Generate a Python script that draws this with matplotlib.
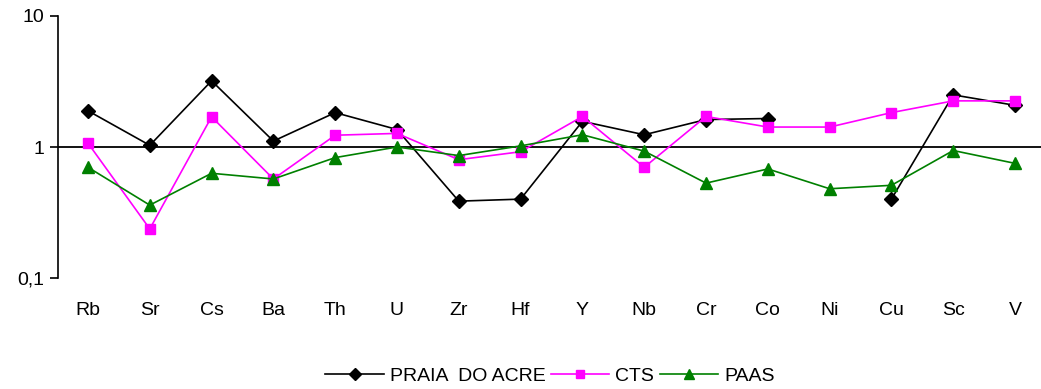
from matplotlib import pyplot as plt
import numpy as np

plt.rcParams['font.family'] = ['Liberation Sans', 'DejaVu Sans']

elements = ["Rb", "Sr", "Cs", "Ba", "Th", "U", "Zr", "Hf", "Y", "Nb", "Cr", "Co", "Ni", "Cu", "Sc", "V"]
# Ni missing for Praia do Acre -> gap in the line
praia_do_acre = [1.89, 1.03, 3.2, 1.11, 1.83, 1.36, 0.386, 0.40, 1.57, 1.24, 1.62, 1.65, np.nan, 0.40, 2.5, 2.08]
cts = [1.07, 0.237, 1.70, 0.57, 1.23, 1.27, 0.80, 0.92, 1.71, 0.70, 1.71, 1.42, 1.42, 1.83, 2.25, 2.25]
paas = [0.70, 0.36, 0.63, 0.57, 0.83, 1.0, 0.86, 1.02, 1.24, 0.93, 0.53, 0.68, 0.48, 0.51, 0.94, 0.75]

W, H = 1041, 389
fig = plt.figure(figsize=(W / 100, H / 100), dpi=100)
ax = fig.add_axes([58 / W, 1 - 278 / H, (W - 58) / W, 262 / H])

x = np.arange(len(elements))
ax.axhline(1, color='black', lw=1.3, zorder=1)
ax.plot(x, praia_do_acre, color='black', lw=1.2, marker='D', markersize=7, label='PRAIA  DO ACRE', zorder=3)
ax.plot(x, cts, color='#ff00ff', lw=1.2, marker='s', markersize=7, label='CTS', zorder=3)
ax.plot(x, paas, color='#008000', lw=1.2, marker='^', markersize=8, label='PAAS', zorder=3)

ax.set_yscale('log')
ax.set_ylim(0.1, 10)
ax.set_xlim(-0.485, 15.42)
ax.set_yticks([0.1, 1, 10])
ax.set_yticklabels(['0,1', '1', '10'])
ax.yaxis.set_minor_locator(plt.NullLocator())
ax.set_xticks(x)
ax.set_xticklabels(elements)
ax.tick_params(axis='x', length=0, pad=17, labelsize=14)
ax.tick_params(axis='y', length=6, width=1.2, pad=4, labelsize=14)
for side in ['top', 'right', 'bottom']:
    ax.spines[side].set_visible(False)
ax.spines['left'].set_linewidth(1.2)

fig.legend(loc='center', bbox_to_anchor=(550 / W, 1 - 376 / H), ncol=3, frameon=False,
           fontsize=14, handlelength=3.0, handletextpad=0.3, columnspacing=0.3, markerscale=0.85)

fig.savefig('out.png', dpi=100)
